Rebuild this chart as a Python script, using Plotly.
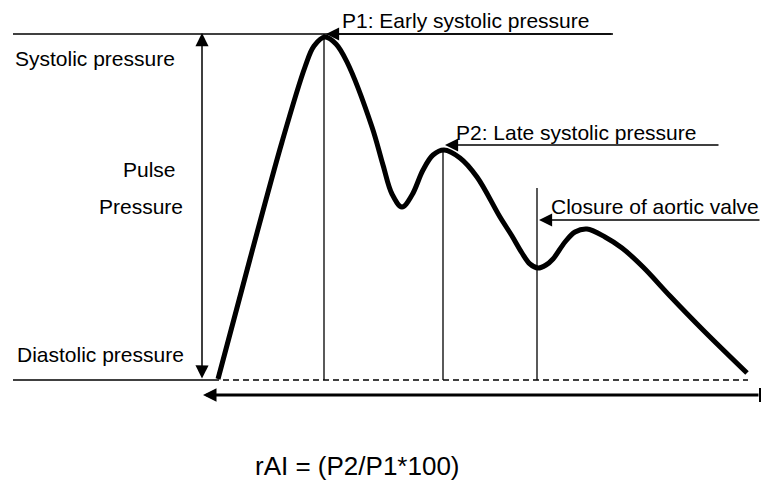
import plotly.graph_objects as go

# ---- data (time in px-like units, pressure as height above diastolic level) ----
wave_t = [218, 250, 282, 305, 314, 325, 336, 347, 372, 383, 392, 402, 412, 423, 433,
          444, 460, 477, 500, 512, 522, 530, 538, 546, 553, 565, 575, 587, 605, 622,
          643, 670, 703, 747]
wave_p = [1, 121, 238, 313, 334, 343, 336, 318, 253, 215, 186, 173, 185, 210, 225,
          230, 222, 203, 163, 144, 127, 116, 112, 115, 121, 138, 148, 151, 143, 132,
          113, 84, 50, 7]

systolic_level = 346
diastolic_level = 0
p1_t, p1_p = 324, 346
p2_t, p2_p = 443, 232
closure_t, closure_p = 537, 192

label_systolic = "Systolic pressure"
label_pulse = ["Pulse", "Pressure"]
label_diastolic = "Diastolic pressure"
label_p1 = "P1: Early systolic pressure"
label_p2 = "P2: Late systolic pressure"
label_closure = "Closure of aortic valve"
label_formula = "rAI = (P2/P1*100)"

FONT = "Liberation Sans, Arial, sans-serif"

fig = go.Figure()
fig.add_trace(go.Scatter(
    x=wave_t, y=wave_p, mode="lines",
    line=dict(color="black", width=5, shape="spline", smoothing=1.0),
    hoverinfo="skip", showlegend=False))

shapes = []
thin = dict(color="black", width=1.5)
# systolic reference line
shapes.append(dict(type="line", xref="x", yref="y", x0=13, x1=613,
                   y0=systolic_level, y1=systolic_level, line=thin))
# diastolic baseline: solid then dashed
shapes.append(dict(type="line", xref="x", yref="y", x0=13, x1=213,
                   y0=diastolic_level, y1=diastolic_level, line=thin))
shapes.append(dict(type="line", xref="x", yref="y", x0=213, x1=748,
                   y0=diastolic_level, y1=diastolic_level,
                   line=dict(color="black", width=1.3, dash="6px,4px")))
# vertical markers
for t, p in [(p1_t, p1_p), (p2_t, p2_p), (closure_t, closure_p)]:
    shapes.append(dict(type="line", xref="x", yref="y", x0=t, x1=t,
                       y0=diastolic_level, y1=p, line=dict(color="black", width=1.3)))
# tick at end of time axis
shapes.append(dict(type="line", xref="x", yref="y", x0=760, x1=760, y0=-8, y1=-22,
                   line=dict(color="black", width=2)))

ann = []
# double-headed pulse pressure arrow
ann.append(dict(x=202, y=systolic_level + 1, ax=202, ay=diastolic_level, xref="x", yref="y",
                axref="x", ayref="y", showarrow=True, arrowhead=2, startarrowhead=2,
                arrowside="end+start", arrowsize=1.75, startarrowsize=1.75,
                arrowwidth=1.5, arrowcolor="black", text=""))
# pointer arrows
for tip_t, tip_p, tail_t in [(p1_t + 2, p1_p, 613), (p2_t + 2, p2_p + 3, 720),
                             (closure_t + 2, 160, 761)]:
    ann.append(dict(x=tip_t, y=tip_p, ax=tail_t, ay=tip_p, xref="x", yref="y",
                    axref="x", ayref="y", showarrow=True, arrowhead=2, arrowsize=1.75,
                    arrowwidth=1.5, arrowcolor="black", text=""))
# time axis arrow
ann.append(dict(x=203, y=-15, ax=760, ay=-15, xref="x", yref="y", axref="x", ayref="y",
                showarrow=True, arrowhead=2, arrowsize=0.9, arrowwidth=3,
                arrowcolor="black", text=""))

def txt(s, x, y, xanchor="left", size=21):
    return dict(x=x, y=y, xref="x", yref="y", text=s, showarrow=False,
                xanchor=xanchor, yanchor="middle",
                font=dict(family=FONT, size=size, color="black"))

ann += [
    txt(label_systolic, 13, 322),
    txt(label_pulse[0], 178, 211, "right"),
    txt(label_pulse[1], 185, 174, "right"),
    txt(label_diastolic, 15, 26),
    txt(label_p1, 340, 360),
    txt(label_p2, 454, 248),
    txt(label_closure, 549, 174),
    txt(label_formula, 253, -86, size=26),
]

fig.update_layout(
    width=761, height=481, margin=dict(l=0, r=0, t=0, b=0),
    paper_bgcolor="white", plot_bgcolor="white",
    xaxis=dict(range=[0, 761], visible=False, fixedrange=True),
    yaxis=dict(range=[-101, 380], visible=False, fixedrange=True),
    shapes=shapes, annotations=ann, showlegend=False,
)

fig.write_html("out.html", config={"displayModeBar": False},
               post_script="document.body.style.margin='0';document.body.style.overflow='hidden';")
